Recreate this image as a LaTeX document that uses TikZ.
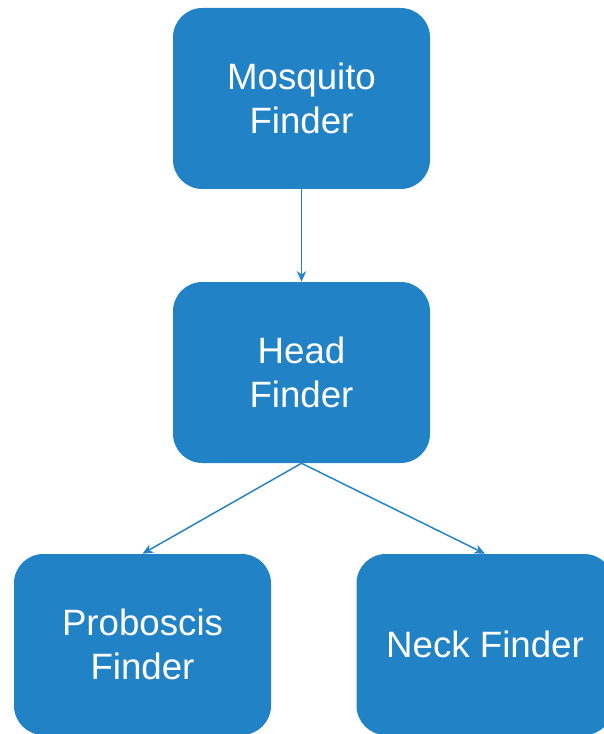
\documentclass[tikz,border=0pt]{standalone}
\usepackage{fontspec}
\setmainfont{Liberation Sans}
\usetikzlibrary{arrows.meta}
\definecolor{finderblue}{RGB}{33,131,198}
\tikzset{
  finder/.style={fill=finderblue, rounded corners=22pt, minimum width=192.75pt,
    minimum height=135.75pt, align=center, text=white,
    font=\fontsize{27.5}{33.5}\selectfont},
  link/.style={draw=finderblue, line width=1.1pt, -{Stealth[length=8pt,width=7pt]}}
}
\begin{document}
\begin{tikzpicture}[x=0.75pt, y=-0.75pt]
  \useasboundingbox (0,0) rectangle (603,734);
  \def\drawFinder#1#2#3#4{\node[finder] (#1) at (#2, #3) {#4};}
  \drawFinder{mosquito}{301.5}{98.5}{Mosquito\\Finder}
  \drawFinder{head}{301.5}{372.5}{Head\\Finder}
  \drawFinder{proboscis}{142.5}{644.5}{Proboscis\\Finder}
  \drawFinder{neck}{485}{644.5}{Neck Finder}

  \draw[link] (mosquito) -- (head);
  \draw[link] (head.south) -- (proboscis.north);
  \draw[link] (head.south) -- (neck.north);
\end{tikzpicture}
\end{document}
